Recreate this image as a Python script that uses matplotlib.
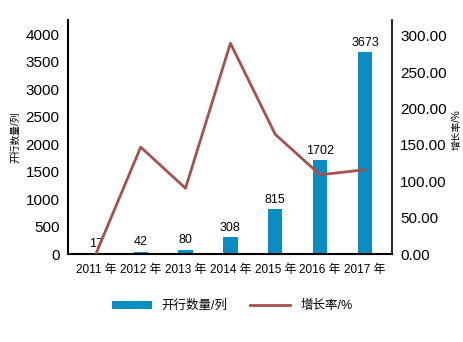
import numpy as np
import matplotlib.pyplot as plt

plt.rcParams['font.family'] = ['Liberation Sans', 'Noto Sans CJK SC', 'DejaVu Sans']

years = ['2011 年', '2012 年', '2013 年', '2014 年', '2015 年', '2016 年', '2017 年']
counts = [17, 42, 80, 308, 815, 1702, 3673]
growth = [0.0, 147.06, 90.48, 290.0, 164.61, 109.0, 116.0]

bar_color = '#0a8dc3'
line_color = '#a5524f'

fig = plt.figure(figsize=(4.64, 3.42), dpi=100)
ax = fig.add_axes([0.1466, 0.2573, 0.698, 0.6842])
x = np.arange(len(years))

bars = ax.bar(x, counts, width=0.32, color=bar_color, label='开行数量/列')
for xi, v in zip(x, counts):
    ax.text(xi, v + 60, str(v), ha='center', va='bottom', fontsize=9)

ax.set_xlim(-0.62, 6.6)
ax.set_ylim(0, 4255)
ax.set_yticks(np.arange(0, 4001, 500))
ax.set_xticks(x)
ax.set_xticklabels(years, fontsize=8.5)
ax.tick_params(axis='y', length=0, labelsize=11, pad=6)
ax.tick_params(axis='x', length=0, pad=7)
ax.set_ylabel('开行数量/列', fontsize=7, labelpad=4)
ax.spines['top'].set_visible(False)
ax.spines['right'].set_visible(False)
ax.spines['left'].set_linewidth(1.5)
ax.spines['bottom'].set_linewidth(1.5)

ax2 = ax.twinx()
line, = ax2.plot(x, growth, color=line_color, linewidth=2, label='增长率/%')
ax2.set_ylim(0, 322)
ax2.set_yticks(np.arange(0, 301, 50))
ax2.set_yticklabels(['%.2f' % v for v in np.arange(0, 301, 50)])
ax2.tick_params(axis='y', length=0, labelsize=11, pad=6)
ax2.set_ylabel('增长率/%', fontsize=7, rotation=90)
ax2.yaxis.set_label_coords(1.185, 0.53)
ax2.spines['top'].set_visible(False)
ax2.spines['left'].set_visible(False)
ax2.spines['bottom'].set_visible(False)
ax2.spines['right'].set_linewidth(1.2)

fig.legend([bars, line], ['开行数量/列', '增长率/%'], loc='center',
           bbox_to_anchor=(0.5, 0.105), ncol=2, frameon=False, fontsize=9,
           handlelength=3.2, handleheight=0.6, columnspacing=1.8)

fig.savefig('out.png', dpi=100)
